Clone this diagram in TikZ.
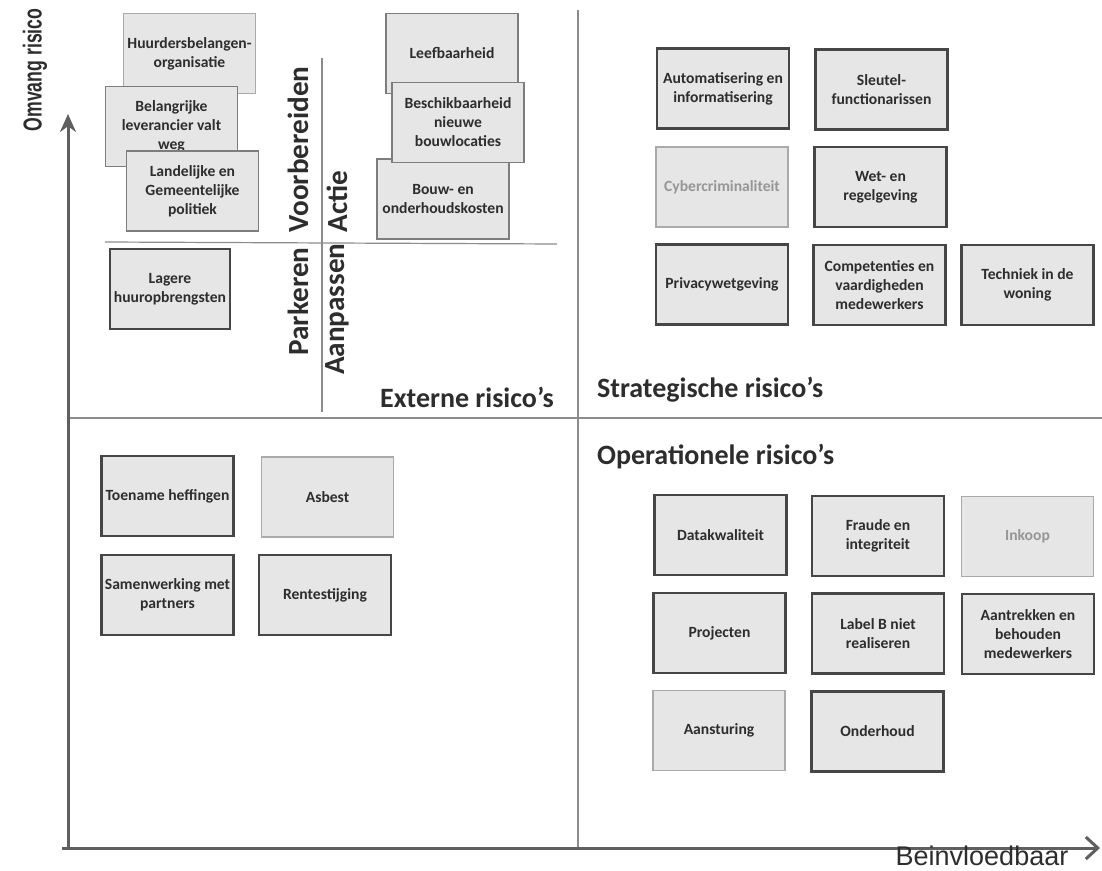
\documentclass[tikz,border=0pt]{standalone}
\usepackage{fontspec}
\setmainfont{Carlito}
\newfontfamily\axisfont{Liberation Sans}
\usetikzlibrary{arrows.meta}
\definecolor{boxfill}{RGB}{230,230,230}
\definecolor{boxedge}{RGB}{70,70,70}
\definecolor{midedge}{RGB}{125,125,125}
\definecolor{faintedge}{RGB}{170,170,170}
\definecolor{inktext}{RGB}{45,45,45}
\definecolor{fainttext}{RGB}{150,150,150}
\definecolor{axisgray}{RGB}{95,95,95}
\definecolor{linegray}{RGB}{140,140,140}
\tikzset{
  riskbox/.style={draw=boxedge,line width=1.1pt,fill=boxfill,text=inktext,
    minimum width=66pt,minimum height=40pt,inner sep=1pt,align=center,
    font=\fontsize{7.8}{9.5}\selectfont\bfseries},
  midbox/.style={riskbox,draw=midedge,line width=0.8pt},
  faintbox/.style={riskbox,draw=faintedge,line width=0.8pt,text=fainttext},
  quadlabel/.style={text=inktext,font=\fontsize{14}{16}\selectfont\bfseries},
  sidelabel/.style={rotate=90,inner sep=0pt,text=inktext,font=\fontsize{14.6}{16}\selectfont\bfseries},
  quadline/.style={linegray,line width=0.8pt}
}
\begin{document}
\begin{tikzpicture}[x=0.5pt,y=-0.5pt]
    \useasboundingbox[fill=white] (0,0) rectangle (1102,871);
    % lines
    \coordinate (midtop) at (578,10);
    \coordinate (midbottom) at (578,848);
    \coordinate (midleft) at (68,418);
    \coordinate (midright) at (1102,418);
    \coordinate (innerleft) at (105,242);
    \coordinate (innerright) at (557,244);
    \coordinate (innertop) at (322,58);
    \coordinate (innerbottom) at (322,412);
    \draw[quadline] (midtop)--(midbottom);
    \draw[quadline] (midleft)--(midright);
    \draw[quadline,line width=0.6pt] (innerleft)--(innerright);
    \draw[quadline,line width=0.6pt] (innertop)--(innerbottom);
    % axes
    \coordinate (origin) at (68,848);
    \coordinate (xstart) at (62,848);
    \coordinate (ytop) at (68,114);
    \coordinate (xend) at (1100,848);
    \draw[axisgray,line width=1.5pt,-{Stealth[length=9pt,width=8pt]}] (origin)--(ytop);
    \draw[axisgray,line width=1.5pt,-{Straight Barb[length=6pt,width=11pt]}] (xstart)--(xend);
    \node[rotate=90,text=inktext,font=\axisfont\bfseries\fontsize{13}{15}\selectfont] (omvang) at (35,70) {\scalebox{0.68}[1]{Omvang risico}};
    \node[text=inktext,font=\axisfont\fontsize{13.5}{15}\selectfont] (beinvloed) at (982,856) {Beinvloedbaar};
    % externe risico's
    \node[midbox,draw=faintedge] (huurders) at (189.5,53.5) {Huurdersbelangen-\\organisatie};
    \node[midbox] (leverancier) at (171.5,126.5) {Belangrijke\\leverancier valt\\weg};
    \node[midbox] (politiek) at (192.5,191) {Landelijke en\\Gemeentelijke\\politiek};
    \node[riskbox,minimum width=60pt] (huur) at (170,289) {Lagere\\huuropbrengsten};
    \node[midbox] (leefbaarheid) at (452,53.5) {Leefbaarheid};
    \node[midbox] (bouwkosten) at (443,199) {Bouw- en\\onderhoudskosten};
    \node[midbox] (bouwlocaties) at (458,122.5) {Beschikbaarheid\\nieuwe\\bouwlocaties};
    \node[sidelabel,anchor=west] (voorbereiden) at (298,233) {Voorbereiden};
    \node[sidelabel,anchor=west] (actie) at (337,233) {Actie};
    \node[sidelabel,anchor=east] (parkeren) at (298,247) {Parkeren};
    \node[sidelabel,anchor=east] (aanpassen) at (337,243) {Aanpassen};
    \node[quadlabel] (externe) at (467,397) {Externe risico’s};
    % strategische risico's
    \node[riskbox] (automatisering) at (723,88.5) {Automatisering en\\informatisering};
    \node[riskbox] (sleutel) at (881.5,89.5) {Sleutel-\\functionarissen};
    \node[faintbox] (cyber) at (722,187) {Cybercriminaliteit};
    \node[riskbox] (regelgeving) at (880.5,187) {Wet- en\\regelgeving};
    \node[riskbox] (privacy) at (722,284.5) {Privacywetgeving};
    \node[riskbox] (competenties) at (879.5,285) {Competenties en\\vaardigheden\\medewerkers};
    \node[riskbox] (techniek) at (1027.5,285) {Techniek in de\\woning};
    \node[quadlabel,anchor=west] (strategische) at (590,390) {Strategische risico’s};
    % operationele risico's
    \node[quadlabel,anchor=west] (operationele) at (590,457) {Operationele risico’s};
    \node[riskbox] (heffingen) at (167.5,496) {Toename heffingen};
    \node[faintbox,text=inktext] (asbest) at (327.5,497) {Asbest};
    \node[riskbox] (samenwerking) at (167.5,595) {Samenwerking met\\partners};
    \node[riskbox] (rente) at (325,595) {Rentestijging};
    \node[riskbox] (datakwaliteit) at (720.5,535) {Datakwaliteit};
    \node[riskbox] (fraude) at (878,536) {Fraude en\\integriteit};
    \node[faintbox] (inkoop) at (1027.5,536.5) {Inkoop};
    \node[riskbox] (projecten) at (719.5,633) {Projecten};
    \node[riskbox] (labelb) at (878,633.5) {Label B niet\\realiseren};
    \node[riskbox] (aantrekken) at (1028,634) {Aantrekken en\\behouden\\medewerkers};
    \node[faintbox,text=inktext] (aansturing) at (719,730.5) {Aansturing};
    \node[riskbox] (onderhoud) at (877.5,731.5) {Onderhoud};
\end{tikzpicture}
\end{document}
